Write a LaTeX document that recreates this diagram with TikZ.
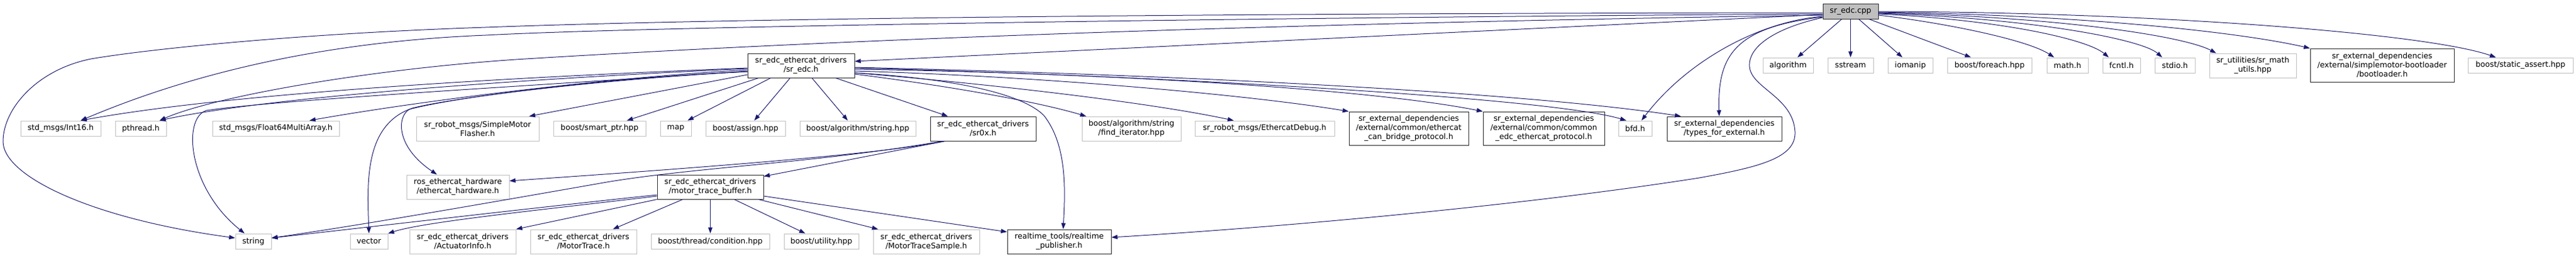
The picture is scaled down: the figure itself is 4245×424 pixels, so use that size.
\documentclass[tikz,border=0pt]{standalone}
\usepackage{fontspec}
\setmainfont{DejaVu Sans}
\usetikzlibrary{arrows.meta}
\definecolor{navy}{HTML}{191970}
\definecolor{gray75}{HTML}{BFBFBF}
\tikzset{
  box/.style={draw, line width=1pt, fill=white, inner sep=0pt, align=center,
    font={\fontsize{12.7}{15}\selectfont}, text=black},
  ext/.style={box, draw=gray75},
  doc/.style={box, draw=black!85},
  root/.style={box, draw=black!85, fill=gray75},
  link/.style={draw=navy, line width=1pt, -{Triangle[length=10pt,width=7pt]}},
}
\begin{document}
\begin{tikzpicture}[x=1pt,y=-1pt]
\useasboundingbox (0,0) rectangle (4245,424);
% ---- nodes ----
\node[root, minimum width=91pt, minimum height=25pt] (cpp) at (3049.5,18.5) {sr\_edc.cpp};
\node[doc, minimum width=176pt, minimum height=40pt] (srh) at (1320,108) {sr\_edc\_ethercat\_drivers\\/sr\_edc.h};
\node[ext, minimum width=132pt, minimum height=25pt] (int16) at (100,211.5) {std\_msgs/Int16.h};
\node[ext, minimum width=84pt, minimum height=25pt] (pthread) at (232,211.5) {pthread.h};
\node[ext, minimum width=209pt, minimum height=25pt] (float64) at (454.5,211.5) {std\_msgs/Float64MultiArray.h};
\node[ext, minimum width=59pt, minimum height=25pt] (string) at (417.5,397.5) {string};
\node[ext, minimum width=62pt, minimum height=25pt] (vector) at (608,397.5) {vector};
\node[ext, minimum width=169pt, minimum height=40pt] (ros) at (754.5,308) {ros\_ethercat\_hardware\\/ethercat\_hardware.h};
\node[ext, minimum width=202pt, minimum height=40pt] (smflash) at (787,212) {sr\_robot\_msgs/SimpleMotor\\Flasher.h};
\node[ext, minimum width=175pt, minimum height=40pt] (actinfo) at (762.5,398) {sr\_edc\_ethercat\_drivers\\/ActuatorInfo.h};
\node[ext, minimum width=152pt, minimum height=25pt] (smartptr) at (988,211.5) {boost/smart\_ptr.hpp};
\node[ext, minimum width=51pt, minimum height=25pt] (map) at (1113.5,211.5) {map};
\node[ext, minimum width=131pt, minimum height=25pt] (assign) at (1228.5,211.5) {boost/assign.hpp};
\node[doc, minimum width=175pt, minimum height=40pt] (mtb) at (1170.5,308) {sr\_edc\_ethercat\_drivers\\/motor\_trace\_buffer.h};
\node[ext, minimum width=175pt, minimum height=40pt] (mtrace) at (961.5,398) {sr\_edc\_ethercat\_drivers\\/MotorTrace.h};
\node[ext, minimum width=195pt, minimum height=25pt] (cond) at (1170.5,397.5) {boost/thread/condition.hpp};
\node[ext, minimum width=191pt, minimum height=25pt] (algstr) at (1413.5,211.5) {boost/algorithm/string.hpp};
\node[doc, minimum width=174pt, minimum height=40pt] (sr0x) at (1620,212) {sr\_edc\_ethercat\_drivers\\/sr0x.h};
\node[ext, minimum width=123pt, minimum height=25pt] (utility) at (1353.5,397.5) {boost/utility.hpp};
\node[ext, minimum width=175pt, minimum height=40pt] (mtsample) at (1526.5,398) {sr\_edc\_ethercat\_drivers\\/MotorTraceSample.h};
\node[ext, minimum width=163pt, minimum height=40pt] (finditer) at (1864.5,212) {boost/algorithm/string\\/find\_iterator.hpp};
\node[ext, minimum width=230pt, minimum height=25pt] (ethdebug) at (2084,211.5) {sr\_robot\_msgs/EthercatDebug.h};
\node[doc, minimum width=171pt, minimum height=40pt] (rtpub) at (1745.5,398) {realtime\_tools/realtime\\\_publisher.h};
\node[doc, minimum width=197pt, minimum height=55pt] (canbridge) at (2321.5,211.5) {sr\_external\_dependencies\\/external/common/ethercat\\\_can\_bridge\_protocol.h};
\node[doc, minimum width=200pt, minimum height=55pt] (commonedc) at (2544,211.5) {sr\_external\_dependencies\\/external/common/common\\\_edc\_ethercat\_protocol.h};
\node[ext, minimum width=55pt, minimum height=25pt] (bfd) at (2694.5,211.5) {bfd.h};
\node[doc, minimum width=189pt, minimum height=40pt] (types) at (2841.5,212) {sr\_external\_dependencies\\/types\_for\_external.h};
\node[ext, minimum width=83pt, minimum height=25pt] (algorithm) at (2946.5,107.5) {algorithm};
\node[ext, minimum width=75pt, minimum height=25pt] (sstream) at (3049.5,107.5) {sstream};
\node[ext, minimum width=74pt, minimum height=25pt] (iomanip) at (3148,107.5) {iomanip};
\node[ext, minimum width=139pt, minimum height=25pt] (foreach) at (3278.5,107.5) {boost/foreach.hpp};
\node[ext, minimum width=68pt, minimum height=25pt] (math) at (3407,107.5) {math.h};
\node[ext, minimum width=62pt, minimum height=25pt] (fcntl) at (3496,107.5) {fcntl.h};
\node[ext, minimum width=66pt, minimum height=25pt] (stdio) at (3584,107.5) {stdio.h};
\node[ext, minimum width=143pt, minimum height=40pt] (mathutils) at (3712.5,108) {sr\_utilities/sr\_math\\\_utils.hpp};
\node[doc, minimum width=237pt, minimum height=55pt] (bootloader) at (3925.5,107.5) {sr\_external\_dependencies\\/external/simplemotor-bootloader\\/bootloader.h};
\node[ext, minimum width=173pt, minimum height=25pt] (staticassert) at (4153.5,107.5) {boost/static\_assert.hpp};
% ---- edges from sr_edc.cpp ----
\draw[link] ([xshift=-14.5pt]cpp.south) -- ([xshift=15.5pt]algorithm.north);
\draw[link] (cpp.south) -- (sstream.north);
\draw[link] ([xshift=13.5pt]cpp.south) -- ([xshift=-13pt]iomanip.north);
\draw[link] ([xshift=30.5pt]cpp.south) -- ([xshift=-30.5pt]foreach.north);
\draw[link] ([yshift=-6.5pt]cpp.east) .. controls (3200,37) and (3340,65) .. ([xshift=-22pt]math.north);
\draw[link] ([yshift=-4.5pt]cpp.east) .. controls (3300,33) and (3440,65) .. ([xshift=-21pt]fcntl.north);
\draw[link] ([yshift=-3.5pt]cpp.east) .. controls (3350,30) and (3530,65) .. ([xshift=-21pt]stdio.north);
\draw[link] ([yshift=-2.5pt]cpp.east) .. controls (3400,28) and (3600,60) .. ([xshift=-60.5pt]mathutils.north);
\draw[link] ([yshift=-1.5pt]cpp.east) .. controls (3450,25) and (3700,55) .. (bootloader.north west);
\draw[link] ([yshift=-0.5pt]cpp.east) .. controls (3550,20) and (4000,55) .. ([xshift=-40.5pt]staticassert.north);
\draw[link] ([yshift=-5.5pt]cpp.west) -- ([yshift=7pt]srh.east);
\draw[link] ([yshift=-2.5pt]cpp.west) .. controls (2000,22) and (1200,30) .. (800,45)
  .. controls (500,55) and (250,80) .. (150,97)
  .. controls (60,115) and (5,180) .. (5,233)
  .. controls (5,290) and (150,360) .. ([yshift=5.5pt]string.west);
\draw[link] ([yshift=-4.5pt]cpp.west) .. controls (2200,28) and (1100,42) .. (800,58)
  .. controls (550,68) and (330,115) .. ([xshift=33pt]int16.north);
\draw[link] ([yshift=-6.5pt]cpp.west) .. controls (2000,40) and (1300,70) .. (850,98)
  .. controls (600,115) and (350,160) .. ([xshift=31pt]pthread.north);
\draw[link] ([yshift=-8.5pt]cpp.west) .. controls (2900,35) and (2780,100) .. ([xshift=10.5pt]bfd.north);
\draw[link] ([yshift=-9.5pt]cpp.west) .. controls (2860,45) and (2830,90) .. ([xshift=-8.5pt]types.north);
\draw[link] ([yshift=-10.5pt]cpp.west) .. controls (2930,45) and (2880,75) .. (2883,110)
  .. controls (2886,145) and (2955,160) .. (2958,217)
  .. controls (2960,260) and (2900,275) .. (2800,293)
  .. controls (2500,340) and (2100,375) .. ([yshift=7pt]rtpub.east);
% ---- edges from sr_edc.h ----
\draw[link] ([yshift=-4pt]srh.west) .. controls (900,125) and (400,150) .. ([xshift=33pt]int16.north);
\draw[link] ([yshift=-5pt]srh.west) .. controls (900,128) and (450,158) .. ([xshift=31pt]pthread.north);
\draw[link] ([yshift=-7pt]srh.west) .. controls (1000,128) and (700,165) .. ([xshift=55.5pt]float64.north);
\draw[link] ([yshift=-9pt]srh.west) .. controls (900,140) and (450,165) .. (340,182)
  .. controls (300,195) and (310,310) .. ([xshift=-14.5pt]string.north);
\draw[link] ([yshift=-10pt]srh.west) .. controls (1000,130) and (750,160) .. (680,178)
  .. controls (600,205) and (605,300) .. (vector.north);
\draw[link] ([yshift=-10pt]srh.west) .. controls (1000,128) and (750,160) .. (675,180)
  .. controls (655,190) and (650,240) .. ([xshift=-34.5pt]ros.north);
\draw[link] ([yshift=-15pt]srh.west) -- ([xshift=85pt]smflash.north);
\draw[link] ([xshift=-70pt]srh.south) -- ([xshift=45pt]smartptr.north);
\draw[link] ([xshift=-50pt]srh.south) -- ([xshift=19.5pt]map.north);
\draw[link] ([xshift=-18pt]srh.south) -- ([xshift=14.5pt]assign.north);
\draw[link] ([xshift=18pt]srh.south) -- ([xshift=-16.5pt]algstr.north);
\draw[link] ([xshift=57pt]srh.south) -- ([xshift=-58pt]sr0x.north);
\draw[link] ([yshift=-14pt]srh.east) .. controls (1550,140) and (1700,165) .. ([xshift=-74.5pt]finditer.north);
\draw[link] ([yshift=-12pt]srh.east) .. controls (1650,140) and (1900,170) .. ([xshift=-51pt]ethdebug.north);
\draw[link] ([yshift=-9pt]srh.east) .. controls (1700,125) and (2050,155) .. (canbridge.north west);
\draw[link] ([yshift=-6pt]srh.east) .. controls (1800,120) and (2250,145) .. (commonedc.north west);
\draw[link] ([yshift=-4pt]srh.east) .. controls (1900,125) and (2550,160) .. ([xshift=-14.5pt]bfd.north);
\draw[link] ([yshift=-3pt]srh.east) .. controls (1900,122) and (2500,150) .. ([xshift=-71.5pt]types.north);
\draw[link] ([yshift=-12pt]srh.east) .. controls (1550,128) and (1680,150) .. (1720,190)
  .. controls (1760,240) and (1755,320) .. ([xshift=6.5pt]rtpub.north);
% ---- edges from sr0x.h ----
\draw[link] ([xshift=-63pt]sr0x.south) .. controls (1450,255) and (1100,280) .. ([yshift=10pt]ros.east);
\draw[link] ([xshift=-67pt]sr0x.south) .. controls (1350,268) and (1150,275) .. (1000,300)
  .. controls (800,335) and (600,370) .. ([yshift=5.5pt]string.east);
\draw[link] ([xshift=-63pt]sr0x.south) -- ([yshift=-3pt]mtb.north east);
% ---- edges from motor_trace_buffer.h ----
\draw[link] ([yshift=-13pt]mtb.west) .. controls (900,340) and (600,375) .. ([yshift=5.5pt]string.east);
\draw[link] ([yshift=-15pt]mtb.west) .. controls (900,345) and (700,365) .. (vector.north east);
\draw[link] (mtb.south west) -- (actinfo.north east);
\draw[link] ([xshift=-45.5pt]mtb.south) -- ([xshift=48.5pt]mtrace.north);
\draw[link] (mtb.south) -- (cond.north);
\draw[link] ([xshift=39.5pt]mtb.south) -- ([xshift=-26.5pt]utility.north);
\draw[link] ([xshift=79.5pt]mtb.south) -- ([xshift=-79.5pt]mtsample.north);
\draw[link] ([yshift=-15pt]mtb.east) -- ([yshift=16pt]rtpub.west);
\end{tikzpicture}
\end{document}
